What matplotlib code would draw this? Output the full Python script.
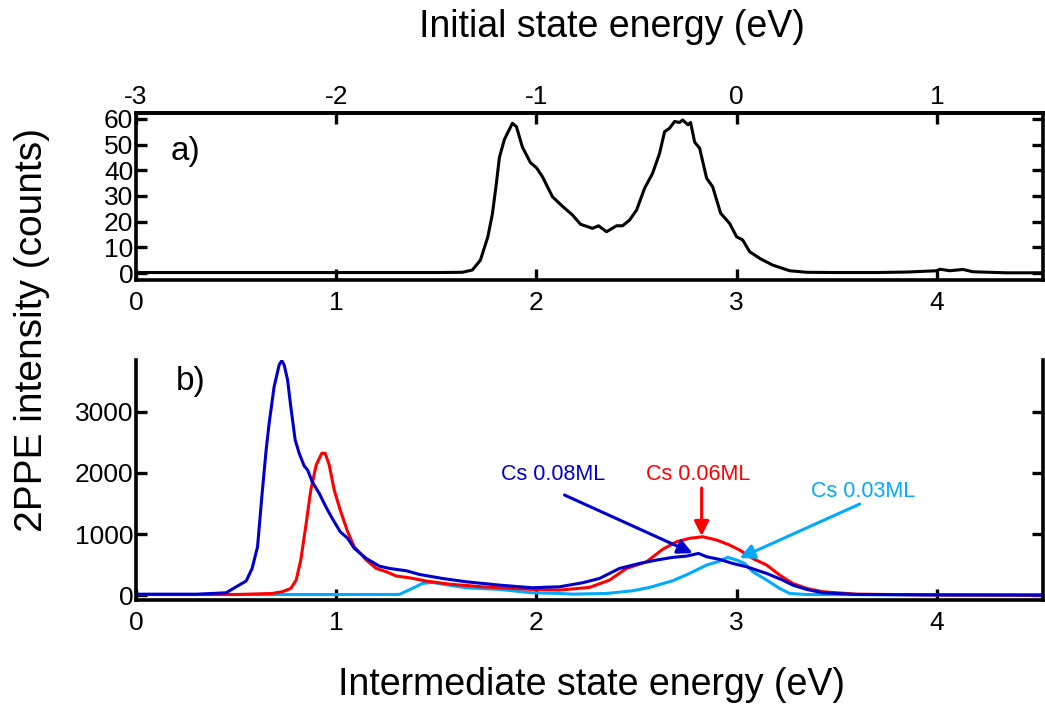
import matplotlib
matplotlib.use("Agg")
import matplotlib.pyplot as plt

plt.rcParams['font.family'] = ['Liberation Sans', 'DejaVu Sans']
plt.rcParams['axes.unicode_minus'] = False

# ---- Panel a: black spectrum (intermediate state energy, counts)
a_x = [0.00, 0.50, 1.00, 1.50, 1.63, 1.68, 1.72, 1.757, 1.78, 1.80, 1.815, 1.84, 1.88,
       1.90, 1.93, 1.97, 2.00, 2.03, 2.08, 2.13, 2.18, 2.22, 2.28, 2.31, 2.35, 2.40,
       2.43, 2.465, 2.50, 2.54, 2.58, 2.615, 2.64, 2.665, 2.69, 2.715, 2.73, 2.757,
       2.77, 2.79, 2.815, 2.85, 2.88, 2.92, 2.965, 3.00, 3.03, 3.065, 3.12, 3.18,
       3.265, 3.35, 3.50, 3.70, 3.85, 4.00, 4.015, 4.065, 4.13, 4.18, 4.35, 4.53]
a_y = [0.2, 0.2, 0.2, 0.2, 0.3, 1.2, 5.0, 14.0, 23.0, 35.0, 45.0, 52.0, 58.3,
       57.0, 49.0, 43.0, 41.0, 37.5, 29.7, 26.0, 22.6, 19.0, 17.4, 18.4, 16.1, 18.4,
       18.4, 20.6, 24.5, 33.0, 38.8, 46.6, 55.0, 56.4, 59.0, 58.6, 59.6, 57.7,
       58.6, 51.0, 48.6, 36.9, 33.6, 23.3, 19.3, 14.1, 12.9, 8.3, 5.5, 3.1,
       0.9, 0.3, 0.2, 0.2, 0.4, 0.9, 1.5, 0.9, 1.4, 0.5, 0.1, 0.1]

# ---- Panel b: Cs coverage series
b08_x = [0.00, 0.30, 0.45, 0.50, 0.55, 0.58, 0.607, 0.63, 0.65, 0.665, 0.69, 0.715, 0.728,
         0.74, 0.757, 0.773, 0.795, 0.815, 0.84, 0.857, 0.88, 0.915, 0.948, 0.98, 1.02,
         1.057, 1.09, 1.15, 1.215, 1.265, 1.35, 1.415, 1.53, 1.65, 1.815, 1.98, 2.05,
         2.115, 2.23, 2.315, 2.415, 2.515, 2.60, 2.68, 2.75, 2.81, 2.85, 2.915, 2.98,
         3.05, 3.15, 3.23, 3.28, 3.35, 3.43, 3.60, 4.00, 4.53]
b08_y = [15, 15, 38, 136, 230, 437, 792, 1667, 2377, 2815, 3415, 3770, 3841,
         3770, 3525, 3087, 2541, 2323, 2115, 2049, 1858, 1667, 1448, 1257, 1038,
         930, 766, 601, 475, 437, 399, 339, 273, 218, 164, 120, 130,
         136, 202, 273, 437, 519, 574, 618, 639, 683, 628, 585, 519,
         464, 355, 246, 164, 93, 38, 11, 3, 0]

b06_x = [0.00, 0.50, 0.68, 0.73, 0.773, 0.80, 0.823, 0.85, 0.873, 0.90, 0.928, 0.945,
         0.965, 0.99, 1.02, 1.057, 1.09, 1.15, 1.20, 1.25, 1.30, 1.365, 1.45, 1.565,
         1.73, 1.98, 2.115, 2.265, 2.365, 2.45, 2.55, 2.63, 2.70, 2.765, 2.83, 2.90,
         2.965, 3.015, 3.08, 3.15, 3.215, 3.28, 3.35, 3.43, 3.60, 4.00, 4.53]
b06_y = [10, 10, 27, 55, 109, 246, 574, 1175, 1721, 2131, 2323, 2323,
         2131, 1721, 1393, 1038, 792, 574, 437, 383, 312, 284, 230, 180,
         136, 93, 82, 126, 246, 437, 546, 749, 874, 930, 956, 902,
         820, 738, 601, 492, 328, 191, 109, 55, 15, 3, 0]

b03_x = [0.00, 1.00, 1.315, 1.38, 1.43, 1.48, 1.53, 1.65, 1.815, 1.98, 2.115, 2.18,
         2.35, 2.48, 2.565, 2.68, 2.765, 2.85, 2.915, 2.955, 3.00, 3.04, 3.08, 3.15,
         3.215, 3.265, 3.35, 4.00, 4.53]
b03_y = [10, 10, 11, 109, 191, 208, 180, 120, 93, 38, 27, 16,
         27, 71, 126, 235, 355, 492, 557, 618, 574, 519, 383, 246,
         109, 27, 10, 5, 0]

xticks = [0, 1, 2, 3, 4]
top_ticks = [-3, -2, -1, 0, 1]
a_yticks = [0, 10, 20, 30, 40, 50, 60]
b_yticks = [0, 1000, 2000, 3000]

c_blue = '#0000cc'
c_red = '#ff0000'
c_light = '#00aaff'

fig = plt.figure(figsize=(10.45, 7.06), dpi=100)
W, H = 1045, 706
def rect(l, r, t, b):
    return [l / W, 1 - b / H, (r - l) / W, (b - t) / H]

axa = fig.add_axes(rect(136, 1043, 113, 280))
axb = fig.add_axes(rect(136, 1043, 360, 600))

tick_kw = dict(direction='in', length=8, width=2.4, labelsize=19)
for ax in (axa, axb):
    for s in ax.spines.values():
        s.set_linewidth(2.6)
    ax.set_xlim(0, 4.53)
    ax.set_xticks(xticks)
    ax.set_xticklabels([str(t) for t in xticks])
    ax.tick_params(axis='x', pad=8, **tick_kw)
    ax.tick_params(axis='y', right=True, pad=2, **tick_kw)

# Panel a
axa.plot(a_x, a_y, color='black', lw=2.2)
axa.set_ylim(-2.7, 62.3)
axa.set_yticks(a_yticks)
axa.text(0.038, 0.72, 'a)', transform=axa.transAxes, fontsize=24)
sec = axa.secondary_xaxis('top', functions=(lambda x: x - 3, lambda x: x + 3))
sec.set_xticks(top_ticks)
sec.set_xticklabels([str(t) for t in top_ticks])
sec.tick_params(axis='x', pad=3, **tick_kw)
sec.spines['top'].set_linewidth(2.6)

# Panel b
axb.plot(b03_x, b03_y, color=c_light, lw=2.2)
axb.plot(b06_x, b06_y, color=c_red, lw=2.2)
axb.plot(b08_x, b08_y, color=c_blue, lw=2.2)
axb.set_ylim(-80, 3850)
axb.set_yticks(b_yticks)
axb.spines['top'].set_visible(False)
axb.text(0.044, 0.875, 'b)', transform=axb.transAxes, fontsize=24)

arrow = lambda c: dict(arrowstyle='-|>', color=c, lw=2.2, mutation_scale=22, shrinkA=0, shrinkB=0)
axb.annotate('', xy=(2.78, 688), xytext=(2.14, 1639), arrowprops=arrow(c_blue))
axb.text(2.085, 1980, 'Cs 0.08ML', color=c_blue, fontsize=15.5, ha='center', va='center')
axb.annotate('', xy=(2.825, 967), xytext=(2.825, 1754), arrowprops=arrow(c_red))
axb.text(2.81, 1980, 'Cs 0.06ML', color=c_red, fontsize=15.5, ha='center', va='center')
axb.annotate('', xy=(3.015, 607), xytext=(3.615, 1492), arrowprops=arrow(c_light))
axb.text(3.63, 1689, 'Cs 0.03ML', color=c_light, fontsize=15.5, ha='center', va='center')

fig.text(591 / W, 1 - 685 / H, 'Intermediate state energy (eV)', fontsize=27, ha='center', va='center')
fig.text(612 / W, 1 - 27 / H, 'Initial state energy (eV)', fontsize=27, ha='center', va='center')
fig.text(32 / W, 1 - 330 / H, '2PPE intensity (counts)', fontsize=28, ha='center', va='center', rotation=90)

fig.savefig('out.png', dpi=100)
